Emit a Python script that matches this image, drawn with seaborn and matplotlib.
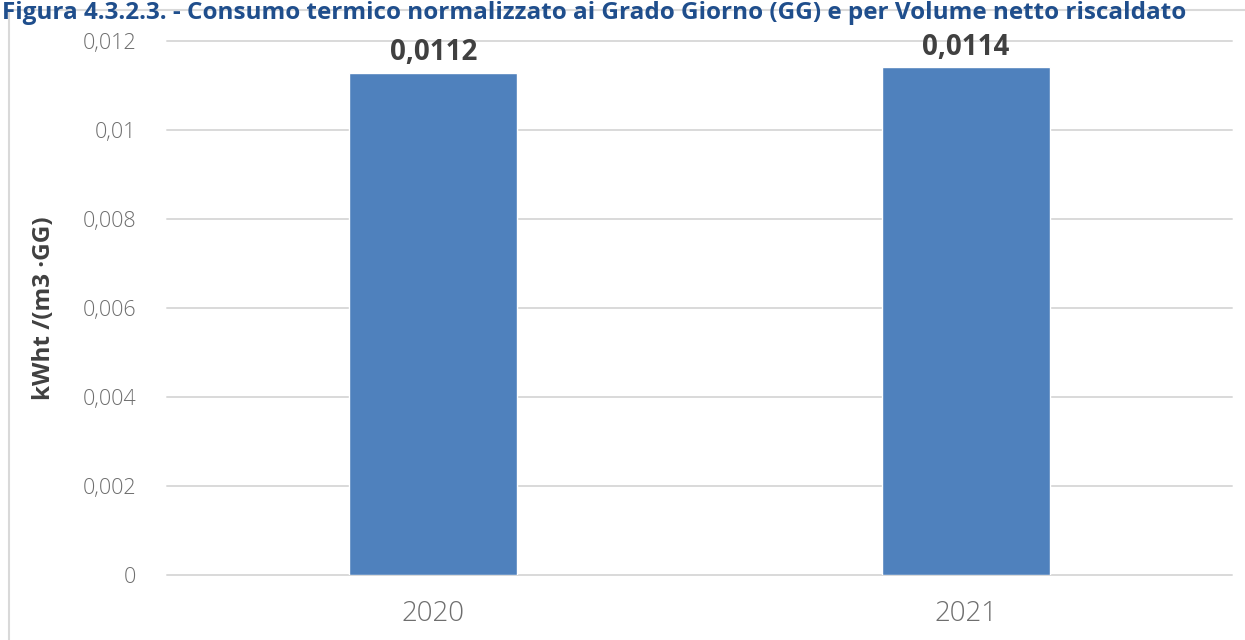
import matplotlib
matplotlib.use("Agg")
import matplotlib.pyplot as plt
import seaborn as sns
import pandas as pd
from matplotlib.ticker import FixedLocator
from matplotlib.patches import Rectangle

years = ["2020", "2021"]
values = [0.01128, 0.01141]
value_labels = ["0,0112", "0,0114"]
yticks = [0, 0.002, 0.004, 0.006, 0.008, 0.01, 0.012]
ytick_labels = ["0", "0,002", "0,004", "0,006", "0,008", "0,01", "0,012"]
title = "Figura 4.3.2.3. - Consumo termico normalizzato ai Grado Giorno (GG) e per Volume netto riscaldato"
ylabel = "kWht /(m3 ·GG)"

sns.set_theme(style="white")
plt.rcParams['font.family'] = ['Open Sans', 'DejaVu Sans']

fig = plt.figure(figsize=(12.45, 6.4), dpi=100)
ax = fig.add_axes([167/1245, 1 - 575/640, (1232 - 167)/1245, (575 - 41)/640])

df = pd.DataFrame({"year": years, "value": values})
sns.barplot(data=df, x="year", y="value", color="#4F81BD", width=0.315,
            saturation=1, ax=ax, zorder=3)

ax.set_xlim(-0.5, 1.5)
ax.set_ylim(0, 0.012)
ax.yaxis.set_major_locator(FixedLocator(yticks))
ax.set_yticklabels(ytick_labels)
for y in yticks:
    ax.axhline(y, color="#d9d9d9", lw=1.4, zorder=1, clip_on=False)
for s in ax.spines.values():
    s.set_visible(False)
ax.tick_params(axis="both", length=0, colors="#6e6e6e")
ax.tick_params(axis="y", pad=22, labelsize=15.5)
ax.tick_params(axis="x", pad=18, labelsize=20)
for lbl in ax.get_xticklabels() + ax.get_yticklabels():
    lbl.set_fontweight("light")
ax.set_xlabel("")
ax.set_ylabel(ylabel, fontsize=17.5, fontweight="bold", color="#404040", labelpad=19)

for i, (v, t) in enumerate(zip(values, value_labels)):
    ax.annotate(t, (i, v), xytext=(0, 4), textcoords="offset points",
                ha="center", va="bottom", fontsize=20, fontweight="bold",
                color="#404040")

# chart border
fig.patches.append(Rectangle((9/1245, -0.1), 1.2, 1 - 10/640 + 0.1,
                             transform=fig.transFigure, fill=False,
                             edgecolor="#d9d9d9", lw=1.5))
fig.text(2/1245, 1 - 1/640, title, ha="left", va="top",
         fontsize=17.5, fontweight="bold", color="#1F4E8C")

fig.savefig("out.png", dpi=100)
